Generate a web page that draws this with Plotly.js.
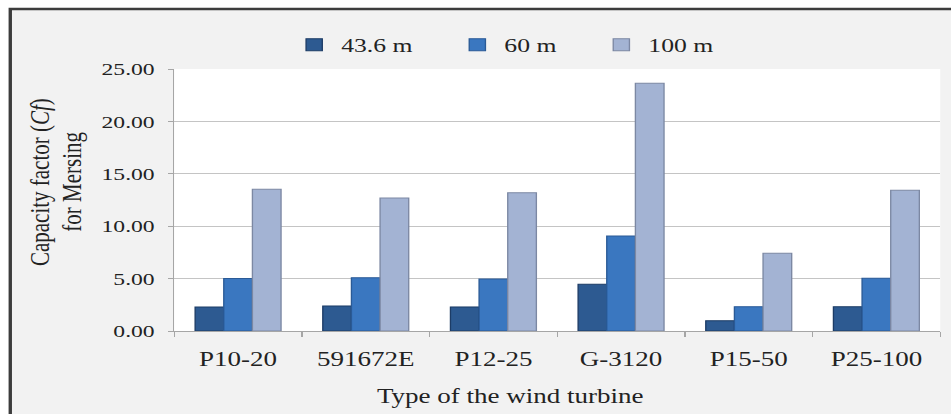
<!DOCTYPE html>
<html>
<head>
<meta charset="utf-8">
<script src="https://cdn.plot.ly/plotly-3.0.1.min.js"></script>
<style>
  html, body { margin: 0; padding: 0; background: #ffffff; overflow: hidden; width: 951px; height: 414px; }
  #chart { width: 704px; height: 414px; transform: scaleX(1.3509); transform-origin: 0 0; }
</style>
</head>
<body>
<div id="chart"></div>
<script>
const categories = ["P10-20", "591672E", "P12-25", "G-3120", "P15-50", "P25-100"];
const seriesNames = ["43.6 m", "60 m", "100 m"];
const values43 = [2.29, 2.39, 2.30, 4.45, 0.98, 2.32];
const values60 = [5.00, 5.09, 4.95, 9.06, 2.32, 5.03];
const values100 = [13.52, 12.69, 13.20, 23.63, 7.41, 13.42];
const yTickVals = [0, 5, 10, 15, 20, 25];
const yTickText = ["0.00", "5.00", "10.00", "15.00", "20.00", "25.00"];

const FONT = '"Liberation Serif", "Times New Roman", serif';
const TXT = '#222222';

const traces = [
  { name: seriesNames[0], y: values43, color: '#2d5a91', line: '#1d3c66', legend: 'legend' },
  { name: seriesNames[1], y: values60, color: '#3a77c0', line: '#2a5a96', legend: 'legend2' },
  { name: seriesNames[2], y: values100, color: '#a3b3d3', line: '#7c88a3', legend: 'legend3' }
].map(s => ({
  type: 'bar',
  name: s.name,
  x: categories,
  y: s.y,
  legend: s.legend,
  marker: { color: s.color, line: { color: s.line, width: 1 } },
  hoverinfo: 'skip'
}));

const legendBase = {
  orientation: 'h', yanchor: 'middle', xanchor: 'left', y: 1.0916,
  bgcolor: 'rgba(0,0,0,0)', font: { family: FONT, size: 19, color: TXT }
};

const layout = {
  width: 704, height: 414,
  margin: { l: 128.8, r: 8.2, t: 69, b: 83 },
  paper_bgcolor: '#f2f2f2',
  plot_bgcolor: '#ffffff',
  barmode: 'group',
  bargap: 0.327,
  bargroupgap: 0,
  showlegend: true,
  legend: Object.assign({}, legendBase, { x: 0.1474 }),
  legend2: Object.assign({}, legendBase, { x: 0.3604 }),
  legend3: Object.assign({}, legendBase, { x: 0.5484 }),
  xaxis: {
    type: 'category',
    tickson: 'boundaries',
    ticks: 'outside', ticklen: 5, tickcolor: '#a6a6a6',
    showline: true, linecolor: '#a6a6a6', linewidth: 1,
    showgrid: false,
    tickfont: { family: FONT, size: 20, color: TXT },
    ticklabelstandoff: 10
  },
  yaxis: {
    range: [0, 25],
    tickvals: yTickVals, ticktext: yTickText,
    ticks: 'outside', ticklen: 4, tickcolor: '#a6a6a6',
    showline: true, linecolor: '#a6a6a6', linewidth: 1,
    gridcolor: '#c4c4c4', gridwidth: 1,
    zeroline: false,
    tickfont: { family: FONT, size: 17.5, color: TXT },
    ticklabelstandoff: 6
  },
  annotations: [
    { text: 'Capacity factor (<i>Cf</i>)', xref: 'paper', yref: 'paper', x: -0.1762, y: 0.5687,
      xanchor: 'center', yanchor: 'middle', textangle: -90, showarrow: false,
      font: { family: FONT, size: 21, color: TXT } },
    { text: 'for Mersing', xref: 'paper', yref: 'paper', x: -0.1345, y: 0.5687,
      xanchor: 'center', yanchor: 'middle', textangle: -90, showarrow: false,
      font: { family: FONT, size: 21, color: TXT } },
    { text: 'Type of the wind turbine', xref: 'paper', yref: 'paper', x: 0.4386, y: -0.2519,
      xanchor: 'center', yanchor: 'middle', showarrow: false,
      font: { family: FONT, size: 20, color: TXT } }
  ],
  shapes: [
    { type: 'rect', xref: 'paper', yref: 'paper', x0: -0.26, x1: -0.2154, y0: -0.4, y1: 1.3,
      fillcolor: '#ffffff', line: { width: 0 }, layer: 'above' },
    { type: 'rect', xref: 'paper', yref: 'paper', x0: -0.26, x1: 1.1, y0: 1.2328, y1: 1.3,
      fillcolor: '#ffffff', line: { width: 0 }, layer: 'above' },
    { type: 'path', xref: 'paper', yref: 'paper', path: 'M-0.2141,-0.4 L-0.2141,1.229 L1.1,1.229',
      line: { color: '#3c3c3c', width: 2.5 }, layer: 'above' }
  ]
};

Plotly.newPlot('chart', traces, layout, { staticPlot: true, displayModeBar: false });
</script>
</body>
</html>
